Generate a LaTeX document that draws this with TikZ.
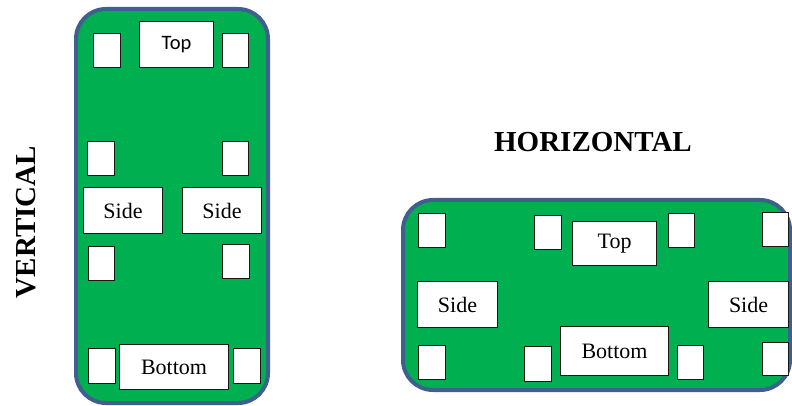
\documentclass[tikz,border=0pt]{standalone}
\usepackage{fontspec}
\setmainfont{Liberation Serif}
\newfontfamily\calib{Carlito}
\definecolor{boardgreen}{HTML}{00B050}
\definecolor{boardedge}{HTML}{3F5F8E}
\begin{document}
\begin{tikzpicture}[x=1pt,y=-1pt,
  board/.style={fill=boardgreen,draw=boardedge,line width=4pt,rounded corners=30pt},
  padbox/.style={draw=black!90,fill=white,line width=1.1pt,inner sep=0pt,anchor=north west},
  lbl/.style={font=\fontsize{22}{24}\selectfont},
  title/.style={font=\fontsize{29}{32}\selectfont\bfseries}]
\useasboundingbox (0,0) rectangle (792,406);
\begin{scope}
\clip (0,0) rectangle (792,406);
% vertical board
\draw[board] (76,9) rectangle (268,403);
\node[padbox,minimum width=27pt,minimum height=34pt] (v1) at (93,33) {};
\node[padbox,minimum width=74pt,minimum height=46pt,font=\fontsize{20.5}{24}\calib] (vtop) at (139,21) {Top};
\node[padbox,minimum width=26pt,minimum height=34pt] (v2) at (222,33) {};
\node[padbox,minimum width=27pt,minimum height=34pt] (v3) at (87,141) {};
\node[padbox,minimum width=26pt,minimum height=34pt] (v4) at (222,141) {};
\node[padbox,lbl,minimum width=79pt,minimum height=46pt] (vside1) at (83,187) {Side};
\node[padbox,lbl,minimum width=79pt,minimum height=46pt] (vside2) at (182,187) {Side};
\node[padbox,minimum width=26pt,minimum height=34pt] (v5) at (88,246) {};
\node[padbox,minimum width=27pt,minimum height=34pt] (v6) at (222,244) {};
\node[padbox,minimum width=27pt,minimum height=35pt] (v7) at (88,348) {};
\node[padbox,lbl,minimum width=109pt,minimum height=45pt] (vbottom) at (119,344) {Bottom};
\node[padbox,minimum width=27pt,minimum height=35pt] (v8) at (233,348) {};
% horizontal board
\draw[board] (403,200) rectangle (790,390);
\node[padbox,minimum width=27pt,minimum height=34pt] (h1) at (418,213) {};
\node[padbox,minimum width=27pt,minimum height=34pt] (h2) at (534,215) {};
\node[padbox,lbl,minimum width=84pt,minimum height=44pt] (htop) at (572,221) {Top};
\node[padbox,minimum width=26pt,minimum height=34pt] (h3) at (668,213) {};
\node[padbox,minimum width=26pt,minimum height=34pt] (h4) at (762,212) {};
\node[padbox,lbl,minimum width=80pt,minimum height=46pt] (hside1) at (417,281) {Side};
\node[padbox,lbl,minimum width=80pt,minimum height=46pt] (hside2) at (708,281) {Side};
\node[padbox,lbl,minimum width=108pt,minimum height=49pt] (hbottom) at (560,326) {Bottom};
\node[padbox,minimum width=27pt,minimum height=34pt] (h5) at (418,345) {};
\node[padbox,minimum width=27pt,minimum height=35pt] (h6) at (524,346) {};
\node[padbox,minimum width=26pt,minimum height=34pt] (h7) at (677,345) {};
\node[padbox,minimum width=26pt,minimum height=33pt] (h8) at (762,342) {};
\end{scope}
% titles
\node[title,rotate=90] (vtitle) at (26,222) {VERTICAL};
\node[title] (htitle) at (593,142) {HORIZONTAL};
\end{tikzpicture}
\end{document}
